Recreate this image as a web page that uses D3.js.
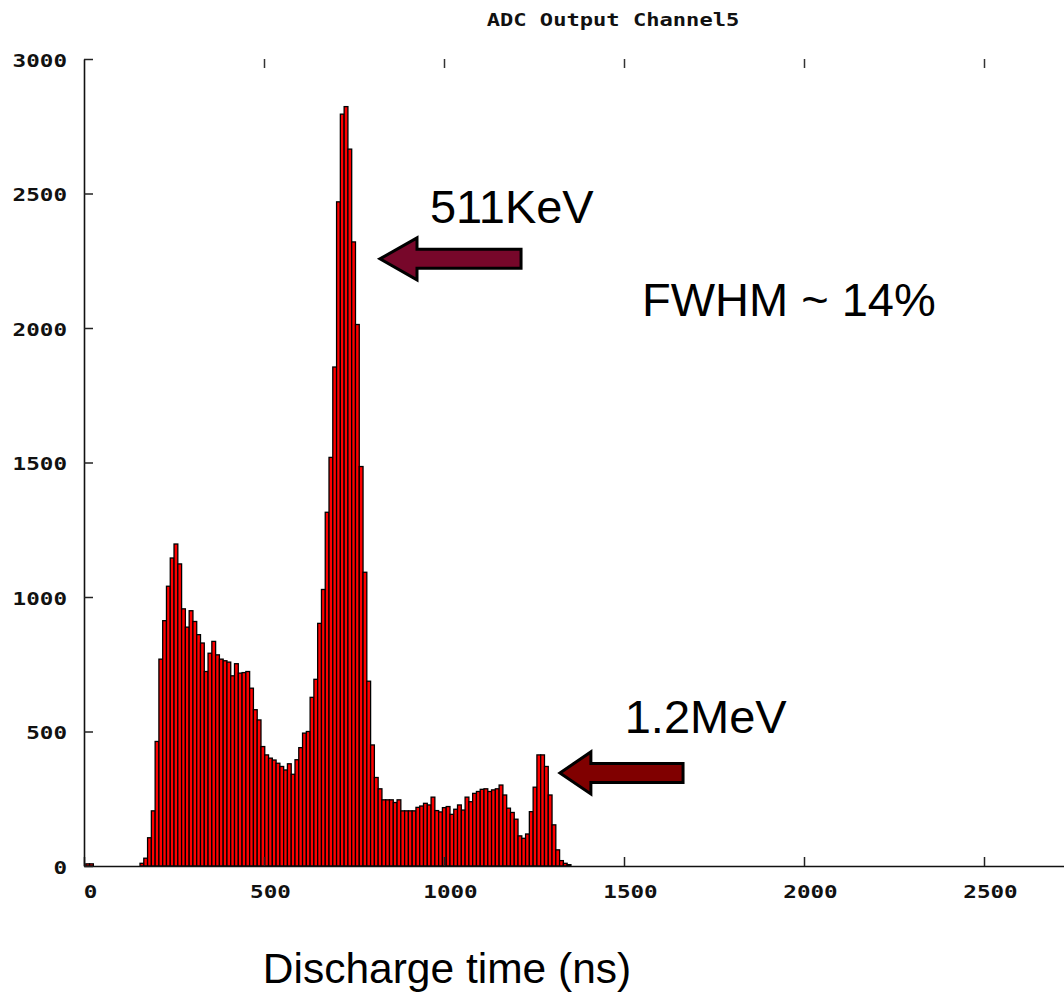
<!DOCTYPE html>
<html>
<head>
<meta charset="utf-8">
<script src="https://cdn.jsdelivr.net/npm/d3@7/dist/d3.min.js"></script>
<style>
  html, body { margin: 0; padding: 0; background: #fff; }
  svg { display: block; }
</style>
</head>
<body>
<svg id="chart" width="1064" height="995"></svg>
<script>
// ---- data ----
const chartTitle = "ADC Output Channel5";
const xLabel = "Discharge time (ns)";
const xTicks = [0, 500, 1000, 1500, 2000, 2500];
const yTicks = [0, 500, 1000, 1500, 2000, 2500, 3000];
const binWidth = 10.5;
const lowBinStart = 5;
const lowCounts = [8, 8];
const mainBinStart = 155.6;
const counts = [
  10, 29, 105, 205, 463, 769, 912, 1040, 1145, 1197,
  1123, 956, 888, 949, 909, 860, 829, 723, 791, 835,
  785, 769, 763, 758, 707, 752, 717, 719, 723, 661,
  581, 543, 444, 413, 401, 394, 382, 370, 357, 380,
  341, 395, 440, 494, 500, 627, 694, 902, 1028, 1315,
  1519, 1855, 2469, 2795, 2823, 2665, 2320, 2013, 1485, 1092,
  687, 450, 329, 287, 246, 246, 246, 236, 246, 205,
  205, 205, 205, 218, 223, 233, 227, 256, 206, 201,
  217, 221, 192, 211, 227, 208, 256, 239, 270, 277,
  285, 287, 277, 283, 287, 301, 264, 215, 199, 174,
  112, 103, 119, 202, 293, 413, 413, 370, 264, 153,
  60, 20, 10, 5
];
// annotations (data units)
const annoTexts = [
  { text: "511KeV",     x: 961,  y: 2390 },
  { text: "FWHM ~ 14%", x: 1550, y: 2043 },
  { text: "1.2MeV",     x: 1502, y: 494 }
];
const arrows = [
  { tipX: 822,  tipY: 2257, baseX: 925,  tailX: 1214, color: "#77072a" },
  { tipX: 1322, tipY: 346,  baseX: 1408, tailX: 1664, color: "#800000" }
];

// ---- layout ----
const svg = d3.select("#chart");
const x = d3.scaleLinear().domain([0, 3000]).range([84, 1164]);
const y = d3.scaleLinear().domain([0, 3000]).range([866, 59]);
const fmt = d3.format("d");

const bins = [];
lowCounts.forEach((c, i) => bins.push({ x0: lowBinStart + i * binWidth, c }));
counts.forEach((c, i) => bins.push({ x0: mainBinStart + i * binWidth, c }));

// bars
svg.append("g").selectAll("rect").data(bins).join("rect")
  .attr("x", d => x(d.x0))
  .attr("y", d => y(d.c))
  .attr("width", d => x(d.x0 + binWidth) - x(d.x0))
  .attr("height", d => y(0) - y(d.c))
  .attr("fill", "#ff0000")
  .attr("stroke", "#000")
  .attr("stroke-width", 1.3);

const tickFont = "'DejaVu Sans Mono', 'Liberation Mono', monospace";
const sx = 1.33;

// bottom axis
const gx = svg.append("g").attr("transform", `translate(0,${y(0)})`)
  .call(d3.axisBottom(x).tickValues(xTicks).tickFormat(fmt).tickSizeInner(-9).tickSizeOuter(0).tickPadding(20));
gx.select(".domain").attr("stroke", "#111").attr("stroke-width", 1.6);
gx.selectAll(".tick line").attr("stroke", "#222").attr("stroke-width", 1.5);
gx.selectAll(".tick text")
  .attr("font-family", tickFont).attr("font-weight", "bold").attr("font-size", 17)
  .attr("fill", "#111")
  .attr("x", 4.5)
  .attr("transform", `scale(${sx},1)`);

// top ticks (no line)
const gt = svg.append("g").attr("transform", `translate(0,${y(3000)})`)
  .call(d3.axisTop(x).tickValues(xTicks.filter(v => v > 0)).tickSizeInner(-9).tickSizeOuter(0).tickFormat(""));
gt.select(".domain").remove();
gt.selectAll(".tick line").attr("stroke", "#333").attr("stroke-width", 1.5);

// left axis
const gy = svg.append("g").attr("transform", `translate(${x(0)},0)`)
  .call(d3.axisLeft(y).tickValues(yTicks).tickFormat(fmt).tickSizeInner(-9).tickSizeOuter(0).tickPadding(17));
gy.select(".domain").attr("stroke", "#111").attr("stroke-width", 1.6);
gy.selectAll(".tick line").attr("stroke", "#222").attr("stroke-width", 1.5);
gy.selectAll(".tick text")
  .attr("font-family", tickFont).attr("font-weight", "bold").attr("font-size", 17)
  .attr("fill", "#111")
  .attr("x", -17 / sx)
  .attr("dy", "0.42em")
  .attr("transform", `scale(${sx},1)`);

// title
svg.append("text")
  .attr("x", 613 / 1.3).attr("y", 26)
  .attr("transform", "scale(1.3,1)")
  .attr("text-anchor", "middle")
  .attr("font-family", tickFont).attr("font-weight", "bold").attr("font-size", 17)
  .attr("fill", "#111")
  .text(chartTitle);

// x label
svg.append("text")
  .attr("x", 447).attr("y", 983)
  .attr("text-anchor", "middle")
  .attr("font-family", "'Liberation Sans', Arial, sans-serif")
  .attr("font-size", 42.5)
  .attr("fill", "#000")
  .text(xLabel);

// annotation texts
svg.append("g").selectAll("text").data(annoTexts).join("text")
  .attr("x", d => x(d.x)).attr("y", d => y(d.y))
  .attr("font-family", "'Liberation Sans', Arial, sans-serif")
  .attr("font-size", 47)
  .attr("fill", "#000")
  .text(d => d.text);

// arrows
const shaftHalf = 9.5, headHalf = 21;
svg.append("g").selectAll("path").data(arrows).join("path")
  .attr("d", d => {
    const tx = x(d.tipX), ty = y(d.tipY), bx = x(d.baseX), ex = x(d.tailX);
    return `M${tx},${ty} L${bx},${ty - headHalf} L${bx},${ty - shaftHalf} L${ex},${ty - shaftHalf} ` +
           `L${ex},${ty + shaftHalf} L${bx},${ty + shaftHalf} L${bx},${ty + headHalf} Z`;
  })
  .attr("fill", d => d.color)
  .attr("stroke", "#000")
  .attr("stroke-width", 3)
  .attr("stroke-linejoin", "miter");
</script>
</body>
</html>
